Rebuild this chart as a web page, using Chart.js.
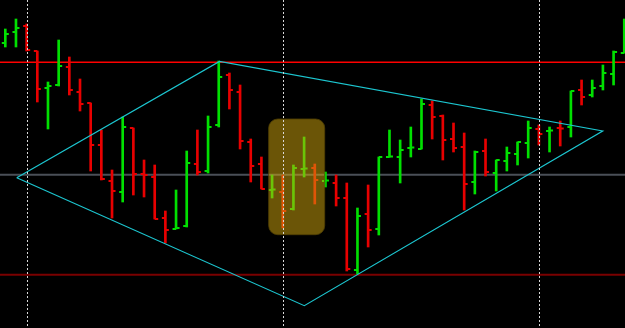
<!DOCTYPE html>
<html>
<head>
<meta charset="utf-8">
<script src="https://cdn.jsdelivr.net/npm/chart.js@4.4.0/dist/chart.umd.min.js"></script>
<style>
  html, body { margin: 0; padding: 0; background: #000; }
  #wrap { width: 625px; height: 328px; position: relative; }
</style>
</head>
<body>
<div id="wrap"><canvas id="priceChart"></canvas></div>
<script>
// OHLC values, one entry per bar
const opens = [1.3357, 1.3368, 1.3374, 1.3349, 1.3312, 1.3315, 1.3333, 1.3308, 1.3297, 1.3255,
  1.3219, 1.3208, 1.3272, 1.3226, 1.3223, 1.3182, 1.3171, 1.3174, 1.3236, 1.3229,
  1.3275, 1.3325, 1.3308, 1.3258, 1.3236, 1.3210, 1.3208, 1.3191, 1.3231, 1.3232,
  1.3219, 1.3217, 1.3202, 1.3130, 1.3186, 1.3171, 1.3243, 1.3243, 1.3252, 1.3251,
  1.3295, 1.3284, 1.3261, 1.3253, 1.3218, 1.3249, 1.3227, 1.3239, 1.3246, 1.3257,
  1.3271, 1.3269, 1.3272, 1.3273, 1.3310, 1.3305, 1.3314, 1.3326, 1.3347];
const highs = [1.3371, 1.3381, 1.3376, 1.3349, 1.3318, 1.3360, 1.3343, 1.3321, 1.3297, 1.3270,
  1.3230, 1.3283, 1.3272, 1.3240, 1.3235, 1.3189, 1.3210, 1.3249, 1.3270, 1.3284,
  1.3339, 1.3327, 1.3315, 1.3261, 1.3243, 1.3225, 1.3225, 1.3235, 1.3263, 1.3236,
  1.3228, 1.3225, 1.3217, 1.3192, 1.3215, 1.3243, 1.3270, 1.3260, 1.3273, 1.3301,
  1.3299, 1.3285, 1.3277, 1.3267, 1.3249, 1.3261, 1.3240, 1.3253, 1.3258, 1.3279,
  1.3275, 1.3273, 1.3279, 1.3309, 1.3320, 1.3320, 1.3335, 1.3349, 1.3381];
const lows = [1.3353, 1.3353, 1.3349, 1.3298, 1.3271, 1.3314, 1.3305, 1.3289, 1.3229, 1.3220,
  1.3182, 1.3198, 1.3205, 1.3203, 1.3181, 1.3157, 1.3171, 1.3173, 1.3225, 1.3227,
  1.3273, 1.3291, 1.3251, 1.3218, 1.3211, 1.3202, 1.3172, 1.3190, 1.3223, 1.3196,
  1.3213, 1.3194, 1.3129, 1.3126, 1.3153, 1.3165, 1.3243, 1.3217, 1.3243, 1.3251,
  1.3261, 1.3240, 1.3248, 1.3190, 1.3206, 1.3224, 1.3209, 1.3229, 1.3235, 1.3242,
  1.3255, 1.3248, 1.3254, 1.3263, 1.3295, 1.3303, 1.3310, 1.3315, 1.3347];
const closes = [1.3366, 1.3372, 1.3350, 1.3311, 1.3314, 1.3334, 1.3310, 1.3296, 1.3255, 1.3221,
  1.3209, 1.3273, 1.3226, 1.3225, 1.3181, 1.3170, 1.3172, 1.3237, 1.3228, 1.3273,
  1.3323, 1.3310, 1.3259, 1.3234, 1.3211, 1.32105, 1.3189, 1.3232, 1.32315, 1.3220,
  1.32195, 1.3202, 1.3131, 1.3184, 1.3170, 1.3243, 1.32435, 1.3250, 1.32525, 1.3296,
  1.3283, 1.3260, 1.3252, 1.3216, 1.3248, 1.3228, 1.3240, 1.3247, 1.3258, 1.3272,
  1.3266, 1.32695, 1.32715, 1.3309, 1.3303, 1.3312, 1.3327, 1.3348, 1.3370];

// horizontal levels
const resistanceLevel = 1.33377;
const pivotLevel = 1.32253;
const supportLevel = 1.31253;

// diamond (x in bar numbers, y in price)
const diamondX = [1.07, 20.07, 55.98, 28.02, 1.07];
const diamondY = [1.32223, 1.33385, 1.32690, 1.30943, 1.32223];

// highlighted zone
const zoneFrom = 24.68;
const zoneTo = 29.93;
const zoneTop = 1.3281;
const zoneBottom = 1.31653;

// bars with a dotted vertical separator
const gridBars = [2, 26, 50];

const upColor = '#00e000';
const downColor = '#e80000';
const xMin = -0.497;
const xMax = 58.07;

const barColors = closes.map((c, i) => (c >= opens[i] ? upColor : downColor));

function levelLine(level, color, width) {
  return {
    type: 'line',
    data: [{ x: xMin, y: level }, { x: xMax, y: level }],
    borderColor: color,
    borderWidth: width,
    pointRadius: 0,
    order: 3
  };
}

const ohlcExtras = {
  id: 'ohlcExtras',
  afterDatasetsDraw(chart) {
    const { ctx } = chart;
    const xs = chart.scales.x;
    const ys = chart.scales.y;

    // open / close ticks
    ctx.save();
    ctx.lineWidth = 2;
    opens.forEach((o, i) => {
      const px = xs.getPixelForValue(i);
      const po = ys.getPixelForValue(o);
      const pc = ys.getPixelForValue(closes[i]);
      ctx.strokeStyle = barColors[i];
      ctx.beginPath();
      ctx.moveTo(px - 3.5, po);
      ctx.lineTo(px, po);
      ctx.moveTo(px, pc);
      ctx.lineTo(px + 3.5, pc);
      ctx.stroke();
    });
    ctx.restore();

    // highlighted zone
    const left = xs.getPixelForValue(zoneFrom);
    const right = xs.getPixelForValue(zoneTo);
    const top = ys.getPixelForValue(zoneTop);
    const bottom = ys.getPixelForValue(zoneBottom);
    ctx.save();
    ctx.fillStyle = 'rgba(214, 170, 14, 0.5)';
    ctx.strokeStyle = 'rgba(80, 64, 4, 0.8)';
    ctx.lineWidth = 1;
    ctx.beginPath();
    ctx.roundRect(left, top, right - left, bottom - top, 9);
    ctx.fill();
    ctx.stroke();
    ctx.restore();

    // dotted vertical separators
    ctx.save();
    ctx.strokeStyle = '#d8d8d8';
    ctx.lineWidth = 1;
    ctx.setLineDash([2, 2]);
    gridBars.forEach((b) => {
      const px = Math.round(xs.getPixelForValue(b)) + 0.5;
      ctx.beginPath();
      ctx.moveTo(px, chart.chartArea.top);
      ctx.lineTo(px, chart.chartArea.bottom);
      ctx.stroke();
    });
    ctx.restore();
  }
};

new Chart(document.getElementById('priceChart'), {
  type: 'bar',
  data: {
    datasets: [
      {
        type: 'bar',
        data: highs.map((h, i) => ({ x: i, y: [lows[i], h] })),
        backgroundColor: barColors,
        borderWidth: 0,
        barThickness: 2,
        order: 1
      },
      {
        type: 'line',
        data: diamondX.map((x, i) => ({ x, y: diamondY[i] })),
        borderColor: '#1cc6d0',
        borderWidth: 1.2,
        pointRadius: 0,
        tension: 0,
        order: 0
      },
      levelLine(resistanceLevel, '#ff0000', 1.5),
      levelLine(pivotLevel, '#4a4f57', 2),
      levelLine(supportLevel, '#7a0000', 2)
    ]
  },
  plugins: [ohlcExtras],
  options: {
    responsive: true,
    maintainAspectRatio: false,
    animation: false,
    layout: { padding: 0 },
    plugins: {
      legend: { display: false },
      tooltip: { enabled: false }
    },
    scales: {
      x: { type: 'linear', min: xMin, max: xMax, offset: false, display: false },
      y: { min: 1.3072, max: 1.3400, display: false }
    }
  }
});
</script>
</body>
</html>
